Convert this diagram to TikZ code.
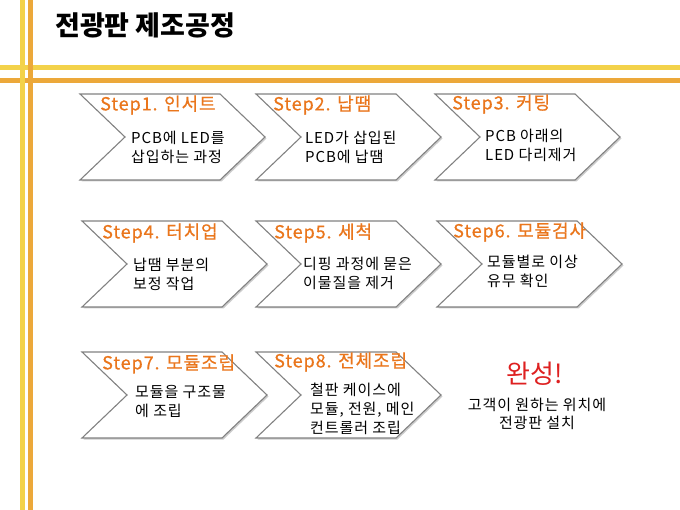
\documentclass[tikz,border=0pt]{standalone}
\usepackage{fontspec}
\setmainfont{Noto Sans CJK KR}
\newfontfamily\bodyfont[LetterSpace=6]{Noto Sans CJK KR}
\newfontfamily\labelfont[LetterSpace=5,FakeBold=0.6]{Noto Sans CJK KR}
\definecolor{lnyellow}{RGB}{243,210,74}
\definecolor{lnorange}{RGB}{236,168,58}
\definecolor{steporange}{RGB}{234,118,28}
\definecolor{donered}{RGB}{222,32,32}
\definecolor{chevgray}{RGB}{130,130,130}
\tikzset{
  chevbox/.style={draw=chevgray, line width=1.1pt, fill=white, line join=miter},
  chevshadow/.style={fill=black!20},
  steplabel/.style={anchor=west, inner sep=0pt, text=steporange, font=\labelfont\fontsize{18}{21}\selectfont},
  stepbody/.style={anchor=west, inner sep=0pt, align=left, font=\bodyfont\fontsize{15}{19}\selectfont},
  donebody/.style={inner sep=0pt, align=center, font=\bodyfont\fontsize{15}{18}\selectfont},
}
\newcommand\mychevron[2]{%
  \begin{scope}[shift={(#1,#2)}]
    \fill[chevshadow] (1.5,-41.5) -- (141.5,-41.5) -- (186.5,1.5) -- (141.5,44.5) -- (1.5,44.5) -- (46.5,1.5) -- cycle;
    \draw[chevbox] (0,-43) -- (140,-43) -- (185,0) -- (140,43) -- (0,43) -- (45,0) -- cycle;
  \end{scope}}
\begin{document}
\begin{tikzpicture}[x=1pt,y=-1pt]
\useasboundingbox (0,0) rectangle (680,510);
\fill[white] (0,0) rectangle (680,510);
% frame lines
\draw[lnyellow, line width=5pt] (0,68) -- (680,68);
\draw[lnorange, line width=5pt] (0,81) -- (680,81);
\draw[lnyellow, line width=5pt] (22,0) -- (22,510);
\draw[lnorange, line width=5pt] (30.5,0) -- (30.5,510);
% title
\node[anchor=west, inner sep=0pt, font=\fontsize{27}{32}\bfseries] (title) at (55,25) {전광판 제조공정};
% row 1
\mychevron{80}{137}
\mychevron{256}{137}
\mychevron{435}{137}
\node[steplabel] (s1) at (100,105) {Step1. 인서트};
\node[stepbody] (b1) at (131,147) {PCB에 LED를\\삽입하는 과정};
\node[steplabel] (s2) at (273,105) {Step2. 납땜};
\node[stepbody] (b2) at (305,147) {LED가 삽입된\\PCB에 납땜};
\node[steplabel] (s3) at (452,104) {Step3. 커팅};
\node[stepbody] (b3) at (485,145) {PCB 아래의\\LED 다리제거};
% row 2
\mychevron{82}{264}
\mychevron{256}{264}
\mychevron{437}{264}
\node[steplabel] (s4) at (102,233) {Step4. 터치업};
\node[stepbody] (b4) at (133,274) {납땜 부분의\\보정 작업};
\node[steplabel] (s5) at (274,233) {Step5. 세척};
\node[stepbody] (b5) at (303,273) {디핑 과정에 묻은\\이물질을 제거};
\node[steplabel] (s6) at (453,232) {Step6. 모듈검사};
\node[stepbody] (b6) at (487,271) {모듈별로 이상\\유무 확인};
% row 3
\mychevron{82}{395}
\mychevron{256}{395}
\node[steplabel] (s7) at (102,364) {Step7. 모듈조립};
\node[stepbody] (b7) at (135,402) {모듈을 구조물\\에 조립};
\node[steplabel] (s8) at (274,362) {Step8. 전체조립};
\node[stepbody] (b8) at (310,409) {철판 케이스에\\모듈, 전원, 메인\\컨트롤러 조립};
% done
\node[inner sep=0pt, text=donered, font=\fontsize{26}{30}\selectfont] (done) at (535,374) {완성!};
\node[donebody] (bd) at (537,414) {고객이 원하는 위치에\\전광판 설치};
\end{tikzpicture}
\end{document}
